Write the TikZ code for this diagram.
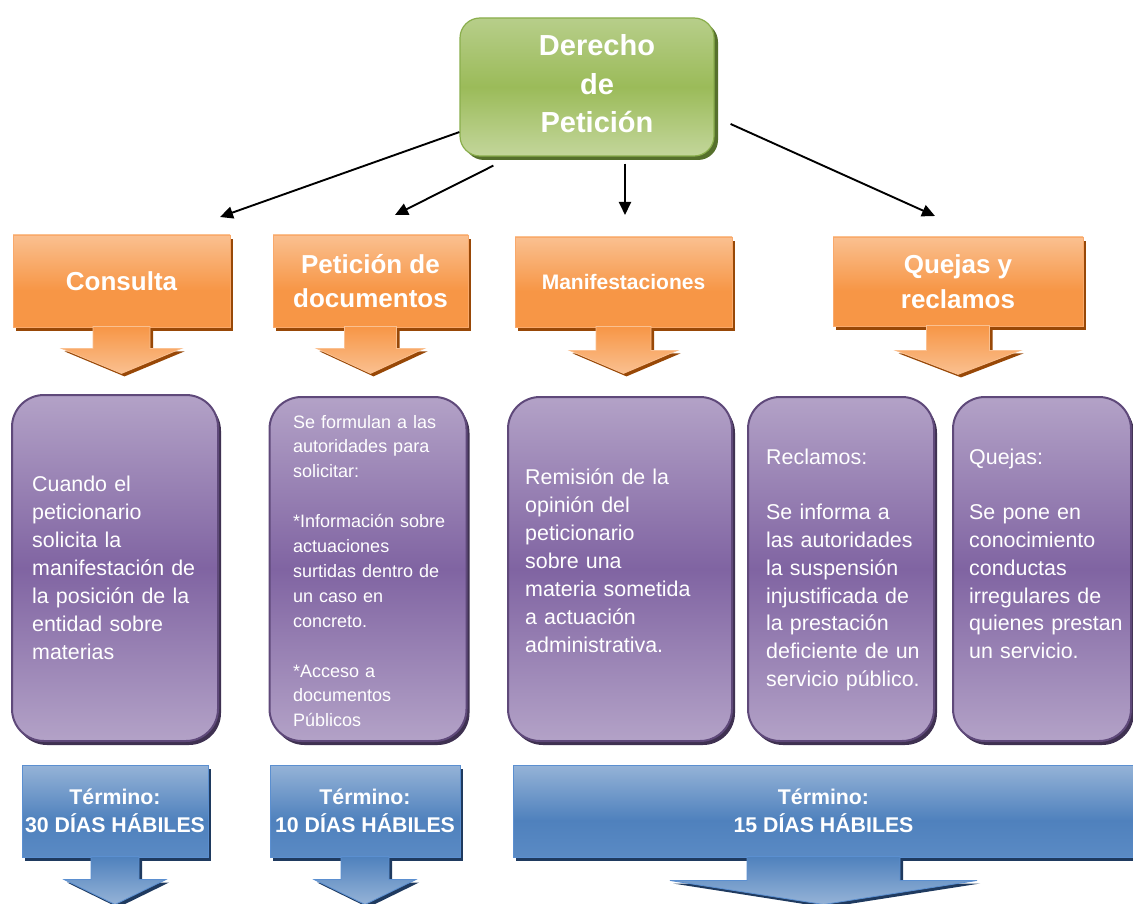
\documentclass[tikz,border=0pt]{standalone}
\usepackage{fontspec}
\setmainfont{Liberation Sans}
\usetikzlibrary{arrows.meta,shadows,positioning}

\definecolor{greenmain}{HTML}{9BBB59}
\definecolor{greenlight}{HTML}{C3D69B}
\definecolor{greentop}{HTML}{B7CE8A}
\definecolor{greenborder}{HTML}{8AAE4C}
\definecolor{greenshadow}{HTML}{56702C}
\definecolor{orangemain}{HTML}{F79646}
\definecolor{orangelight}{HTML}{FAC090}
\definecolor{orangeborder}{HTML}{F9A96B}
\definecolor{orangeshadow}{HTML}{984807}
\definecolor{purplemain}{HTML}{8064A2}
\definecolor{purplelight}{HTML}{B3A2C7}
\definecolor{purpleborder}{HTML}{5F497A}
\definecolor{purpleshadow}{HTML}{3F3151}
\definecolor{bluemain}{HTML}{4F81BD}
\definecolor{bluelow}{HTML}{5A8AC4}
\definecolor{bluelight}{HTML}{95B3D7}
\definecolor{blueborder}{HTML}{5B8FD0}
\definecolor{blueshadow}{HTML}{1F3A5F}

\pgfdeclareverticalshading{greenshade}{100bp}{color(0bp)=(greenlight); color(25bp)=(greenlight); color(50bp)=(greenmain); color(75bp)=(greentop); color(100bp)=(greentop)}
\pgfdeclareverticalshading{orangeshade}{100bp}{color(0bp)=(orangemain); color(25bp)=(orangemain); color(45bp)=(orangemain); color(75bp)=(orangelight); color(100bp)=(orangelight)}
\pgfdeclareverticalshading{purpleshade}{100bp}{color(0bp)=(purplelight); color(25bp)=(purplelight); color(50bp)=(purplemain); color(75bp)=(purplelight); color(100bp)=(purplelight)}
\pgfdeclareverticalshading{blueshade}{100bp}{color(0bp)=(bluelow); color(25bp)=(bluelow); color(45bp)=(bluemain); color(75bp)=(bluelight); color(100bp)=(bluelight)}

% node, stem half width, head half width, stem length, head length, style
\newcommand{\flecha}[6]{%
  \path[#6] ([xshift=-#2pt,yshift=1pt]#1.south) -- ++(0,#4+1) -- ++(#2-#3,0)
    -- ++(#3,#5) -- ++(#3,-#5) -- ++(#2-#3,0) -- ++(0,-#4-1) -- cycle;}

\tikzset{
  greenbox/.style={rectangle, rounded corners=20pt, shade, shading=greenshade,
    draw=greenborder, line width=1.2pt, inner sep=0pt,
    drop shadow={shadow xshift=4pt, shadow yshift=-4pt, fill=greenshadow, opacity=1}},
  orangebox/.style={rectangle, shade, shading=orangeshade, draw=orangeborder,
    line width=0.8pt, inner sep=0pt, text=white, align=center,
    drop shadow={shadow xshift=3pt, shadow yshift=-4pt, fill=orangeshadow, opacity=1}},
  orangearrow/.style={top color=orangemain, bottom color=orangelight, draw=orangelight,
    line width=0.8pt,
    drop shadow={shadow xshift=3pt, shadow yshift=-3pt, fill=orangeshadow, opacity=1}},
  purplebox/.style={rectangle, rounded corners=32pt, shade, shading=purpleshade,
    draw=purpleborder, line width=2pt, inner sep=0pt,
    drop shadow={shadow xshift=3pt, shadow yshift=-4pt, fill=purpleshadow, opacity=1}},
  desctext/.style={text=white, align=left, inner sep=0pt, anchor=base west,
    font=\fontsize{21.4}{28}\selectfont},
  bluebox/.style={rectangle, shade, shading=blueshade, draw=blueborder,
    line width=1pt, inner sep=0pt, text=white, align=center,
    font=\fontsize{21.3}{28.5}\selectfont\bfseries,
    drop shadow={shadow xshift=3pt, shadow yshift=-4pt, fill=blueshadow, opacity=1}},
  bluearrow/.style={top color=bluemain, bottom color=bluelight, draw=blueborder,
    line width=0.8pt,
    drop shadow={shadow xshift=3pt, shadow yshift=-3pt, fill=blueshadow, opacity=1}},
  conn/.style={-{Triangle[length=13pt,width=12pt]}, line width=1.9pt}
}

\begin{document}
\begin{tikzpicture}[x=1pt,y=-1pt]
    \path[use as bounding box, fill=white] (0,0) rectangle (1133,904);

    \node[greenbox, minimum width=254pt, minimum height=138pt] (derecho) at (587,87) {};
    \node[text=white, align=center, inner sep=0pt,
      font=\fontsize{29}{38.5}\selectfont\bfseries] (derechotxt) at (597,84)
      {Derecho\\de\\Petición};

    \coordinate (tipcons) at (220,217);
    \coordinate (tippet) at (395,215);
    \coordinate (tipman) at (625,215);
    \coordinate (tipque) at (935,216);

    \draw[conn] (derecho) -- (tipcons);
    \draw[conn] ([shift={(34pt,-9pt)}]derecho.south west) -- (tippet);
    \draw[conn, shorten <=7pt] (derecho.south -| tipman) -- (tipman);
    \draw[conn] ([shift={(16pt,-37pt)}]derecho.east) -- (tipque);

    \node[orangebox, minimum width=217pt, minimum height=92pt,
      font=\fontsize{26}{34}\selectfont\bfseries] (consulta) at (121.5,281) {Consulta};
    \node[orangebox, minimum width=195pt, minimum height=92pt,
      font=\fontsize{26}{34}\selectfont\bfseries] (peticion) at (370.5,281) {Petición de\\documentos};
    \node[orangebox, minimum width=217pt, minimum height=90pt,
      font=\fontsize{21}{28}\selectfont\bfseries] (manifest) at (623.5,282) {Manifestaciones};
    \node[orangebox, minimum width=250pt, minimum height=89pt,
      font=\fontsize{26}{35}\selectfont\bfseries] (quejas) at (958,281.5) {Quejas y\\reclamos};

    \flecha{consulta}{28.5}{60}{21}{25}{orangearrow}
    \flecha{peticion}{26}{54}{21}{25}{orangearrow}
    \flecha{manifest}{27.5}{54}{23}{23}{orangearrow}
    \flecha{quejas}{31.5}{62.5}{24}{24}{orangearrow}

    \node[purplebox, minimum width=206pt, minimum height=346pt] (desccons) at (115,568) {};
    \node[purplebox, minimum width=197pt, minimum height=344pt] (descpet) at (368,569) {};
    \node[purplebox, minimum width=224pt, minimum height=344pt] (descman) at (620,569) {};
    \node[purplebox, minimum width=186pt, minimum height=344pt] (descrec) at (841,569) {};
    \node[purplebox, minimum width=178pt, minimum height=344pt] (descque) at (1042,569) {};

    \node[desctext, text width=180pt] (txtcons) at (32,491)
      {Cuando el\\peticionario\\solicita la\\manifestación de\\la posición de la\\entidad sobre\\materias};
    \node[desctext, text width=170pt, font=\fontsize{18}{24.9}\selectfont] (txtpet) at (293,428)
      {Se formulan a las\\autoridades para\\solicitar:\\[24.9pt]*Información sobre\\actuaciones\\surtidas dentro de\\un caso en\\concreto.\\[24.9pt]*Acceso a\\documentos\\Públicos};
    \node[desctext, text width=200pt] (txtman) at (525,484)
      {Remisión de la\\opinión del\\peticionario\\sobre una\\materia sometida\\a actuación\\administrativa.};
    \node[desctext, text width=165pt, font=\fontsize{21.4}{27.8}\selectfont] (txtrec) at (766,464)
      {Reclamos:\\[27.8pt]Se informa a\\las autoridades\\la suspensión\\injustificada de\\la prestación\\deficiente de un\\servicio público.};
    \node[desctext, text width=160pt, font=\fontsize{21.4}{27.8}\selectfont] (txtque) at (969,464)
      {Quejas:\\[27.8pt]Se pone en\\conocimiento\\conductas\\irregulares de\\quienes prestan\\un servicio.};

    \node[bluebox, minimum width=186pt, minimum height=92pt] (termcons) at (115,811)
      {Término:\\30 DÍAS HÁBILES};
    \node[bluebox, minimum width=190pt, minimum height=92pt] (termpet) at (365,811)
      {Término:\\10 DÍAS HÁBILES};
    \node[bluebox, minimum width=621pt, minimum height=92pt] (termresto) at (823.5,811)
      {Término:\\15 DÍAS HÁBILES};

    \flecha{termcons}{24}{51}{22}{25}{bluearrow}
    \flecha{termpet}{24}{51}{22}{25}{bluearrow}
    \flecha{termresto}{76.5}{153.5}{23}{24}{bluearrow}
\end{tikzpicture}
\end{document}
